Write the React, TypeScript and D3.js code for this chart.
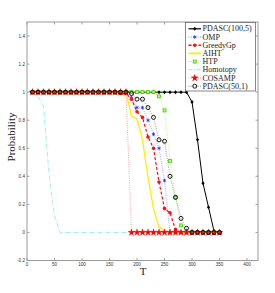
import React, {FC, useEffect, useRef} from 'react';
import * as d3 from 'd3';

// T values (sparsity level)
const tValues = [
  10, 20, 30, 40, 50, 60, 70, 80, 90, 100, 110, 120, 130, 140, 150, 160, 170,
  180, 190, 200, 210, 220, 230, 240, 250, 260, 270, 280, 290, 300, 310, 320,
  330, 340, 350,
];

const pdasc1005 = [
  1, 1, 1, 1, 1, 1, 1, 1, 1, 1, 1, 1, 1, 1, 1, 1, 1, 1, 1, 1, 1, 1, 1, 1, 1, 1,
  1, 1, 1, 0.93, 0.66, 0.35, 0.18, 0.01, 0,
];
const omp = [
  1, 1, 1, 1, 1, 1, 1, 1, 1, 1, 1, 1, 1, 1, 1, 1, 1, 1, 0.96, 0.89, 0.89, 0.8,
  0.7, 0.6, 0.37, 0, 0, 0, 0, 0, 0, 0, 0, 0, 0,
];
const greedyGp = [
  1, 1, 1, 1, 1, 1, 1, 1, 1, 1, 1, 1, 1, 1, 1, 1, 0.99, 0.99, 0.95, 0.86, 0.82,
  0.68, 0.6, 0.36, 0.17, 0.14, 0.02, 0, 0, 0, 0, 0, 0, 0, 0,
];
const aiht = [
  1, 1, 1, 1, 1, 1, 1, 1, 1, 1, 1, 1, 1, 1, 1, 1, 1, 1, 0.83, 0.81, 0.66, 0.39,
  0.17, 0.04, 0.01, 0, 0, 0, 0, 0, 0, 0, 0, 0, 0,
];
const htp = [
  1, 1, 1, 1, 1, 1, 1, 1, 1, 1, 1, 1, 1, 1, 1, 1, 1, 1, 1, 1, 1, 1, 1, 0.97,
  0.87, 0.51, 0.25, 0.05, 0, 0, 0, 0, 0, 0, 0,
];
const homotopy = [
  1, 0.97, 0.9, 0.42, 0.12, 0, 0, 0, 0, 0, 0, 0, 0, 0, 0, 0, 0, 0, 0, 0, 0, 0,
  0, 0, 0, 0, 0, 0, 0, 0, 0, 0, 0, 0, 0,
];
const cosamp = [
  1, 1, 1, 1, 1, 1, 1, 1, 1, 1, 1, 1, 1, 1, 1, 1, 1, 1, 0, 0, 0, 0, 0, 0, 0, 0,
  0, 0, 0, 0, 0, 0, 0, 0, 0,
];
const pdasc501 = [
  1, 1, 1, 1, 1, 1, 1, 1, 1, 1, 1, 1, 1, 1, 1, 1, 1, 1, 0.99, 0.95, 0.95, 0.89,
  0.82, 0.66, 0.65, 0.4, 0.25, 0.1, 0.03, 0, 0, 0, 0, 0, 0,
];

const xTicks = [0, 50, 100, 150, 200, 250, 300, 350, 400];
const yTicks = [-0.2, 0, 0.2, 0.4, 0.6, 0.8, 1, 1.2, 1.4];

type Marker = 'diamond' | 'asterisk' | 'dot' | 'square' | 'star' | 'circle' | 'none';

interface Series {
  name: string;
  values: number[];
  color: string;
  width: number;
  dash: string | null;
  marker: Marker;
  markerColor: string;
}

const series: Series[] = [
  {name: 'PDASC(100,5)', values: pdasc1005, color: '#000', width: 1, dash: null, marker: 'diamond', markerColor: '#000'},
  {name: 'OMP', values: omp, color: '#8c8cff', width: 0.8, dash: '1,1.3', marker: 'asterisk', markerColor: '#2a3cff'},
  {name: 'GreedyGp', values: greedyGp, color: '#ff1010', width: 1.2, dash: '3,2', marker: 'dot', markerColor: '#ff1010'},
  {name: 'AIHT', values: aiht, color: '#ffee00', width: 1.3, dash: null, marker: 'none', markerColor: '#ffee00'},
  {name: 'HTP', values: htp, color: '#b0f080', width: 0.8, dash: '1,1.3', marker: 'square', markerColor: '#44cc00'},
  {name: 'Homotopy', values: homotopy, color: '#78eedc', width: 0.8, dash: '4,1.5,1,1.5', marker: 'none', markerColor: '#78eedc'},
  {name: 'COSAMP', values: cosamp, color: '#ff8a8a', width: 0.8, dash: '1,1.3', marker: 'star', markerColor: '#ff0000'},
  {name: 'PDASC(50,1)', values: pdasc501, color: '#888', width: 0.8, dash: '1,1.3', marker: 'circle', markerColor: '#000'},
];

const drawMarker = (
  g: d3.Selection<SVGGElement, unknown, null, undefined>,
  s: Series,
  cx: number,
  cy: number
) => {
  switch (s.marker) {
    case 'diamond':
      g.append('path')
        .attr('d', `M${cx},${cy - 2}L${cx + 1.6},${cy}L${cx},${cy + 2}L${cx - 1.6},${cy}Z`)
        .attr('fill', s.markerColor);
      break;
    case 'asterisk':
      g.append('path')
        .attr('transform', `translate(${cx},${cy})`)
        .attr('d', d3.symbol(d3.symbolAsterisk, 9)())
        .attr('fill', 'none')
        .attr('stroke', s.markerColor)
        .attr('stroke-width', 0.9);
      break;
    case 'dot':
      g.append('circle').attr('cx', cx).attr('cy', cy).attr('r', 1.8).attr('fill', s.markerColor);
      break;
    case 'square':
      g.append('rect')
        .attr('x', cx - 1.5).attr('y', cy - 1.5).attr('width', 3).attr('height', 3)
        .attr('fill', '#b6ff70').attr('stroke', s.markerColor).attr('stroke-width', 0.8);
      break;
    case 'star':
      g.append('path')
        .attr('transform', `translate(${cx},${cy})`)
        .attr('d', d3.symbol(d3.symbolStar, 15)())
        .attr('fill', s.markerColor)
        .attr('stroke', '#d00000')
        .attr('stroke-width', 0.3);
      break;
    case 'circle':
      g.append('circle').attr('cx', cx).attr('cy', cy).attr('r', 2)
        .attr('fill', 'none').attr('stroke', s.markerColor).attr('stroke-width', 0.9);
      break;
    default:
      break;
  }
};

const Chart: FC = () => {
  const ref = useRef<SVGSVGElement>(null);
  const width = 275;
  const height = 293;
  const plot = {left: 27, right: 258, top: 22, bottom: 260.5};

  useEffect(() => {
    const svg = d3.select(ref.current);
    svg.selectAll('*').remove();

    const x = d3.scaleLinear().domain([0, 420]).range([plot.left, plot.right]);
    const y = d3.scaleLinear().domain([-0.2, 1.5]).range([plot.bottom, plot.top]);

    svg.append('rect').attr('width', width).attr('height', height).attr('fill', '#fff');

    // frame and ticks
    const axisColor = '#8a8a8a';
    const tl = 2.5;
    const axes = svg.append('g').attr('stroke', axisColor).attr('stroke-width', 0.8);
    xTicks.forEach(t => {
      axes.append('line').attr('x1', x(t)).attr('x2', x(t)).attr('y1', plot.bottom).attr('y2', plot.bottom - tl);
      axes.append('line').attr('x1', x(t)).attr('x2', x(t)).attr('y1', plot.top).attr('y2', plot.top + tl);
    });
    yTicks.forEach(t => {
      axes.append('line').attr('x1', plot.left).attr('x2', plot.left + tl).attr('y1', y(t)).attr('y2', y(t));
      axes.append('line').attr('x1', plot.right).attr('x2', plot.right - tl).attr('y1', y(t)).attr('y2', y(t));
    });
    svg.append('rect')
      .attr('x', plot.left).attr('y', plot.top)
      .attr('width', plot.right - plot.left).attr('height', plot.bottom - plot.top)
      .attr('fill', 'none').attr('stroke', '#9a9a9a').attr('stroke-width', 1);

    const labels = svg.append('g')
      .attr('font-family', '"Liberation Sans", Arial, sans-serif')
      .attr('font-size', 4.6)
      .attr('fill', '#333');
    xTicks.forEach(t => {
      labels.append('text').attr('x', x(t)).attr('y', plot.bottom + 5.8)
        .attr('text-anchor', 'middle').text(String(t));
    });
    yTicks.forEach(t => {
      labels.append('text').attr('x', plot.left - 2).attr('y', y(t) + 1.6)
        .attr('text-anchor', 'end').text(String(t));
    });

    // axis titles
    svg.append('text')
      .attr('x', 143).attr('y', 274.5)
      .attr('text-anchor', 'middle')
      .attr('font-family', '"Liberation Serif", "Times New Roman", serif')
      .attr('font-size', 11).attr('fill', '#222')
      .text('T');
    svg.append('text')
      .attr('transform', 'translate(15,137) rotate(-90)')
      .attr('text-anchor', 'middle')
      .attr('font-family', '"Liberation Serif", "Times New Roman", serif')
      .attr('font-size', 11).attr('fill', '#222')
      .text('Probability');

    // lines
    const line = d3.line<number>()
      .x((_, i) => x(tValues[i]))
      .y(d => y(d));

    series.forEach(s => {
      const g = svg.append('g');
      g.append('path')
        .attr('d', line(s.values))
        .attr('fill', 'none')
        .attr('stroke', s.color)
        .attr('stroke-width', s.width)
        .attr('stroke-dasharray', s.dash);
      s.values.forEach((v, i) => drawMarker(g, s, x(tValues[i]), y(v)));
    });

    // legend
    const lg = svg.append('g');
    const lx = 185.5, ly = 22.5, lw = 70, lh = 68.5;
    lg.append('rect')
      .attr('x', lx).attr('y', ly).attr('width', lw).attr('height', lh)
      .attr('fill', '#fff').attr('stroke', '#555').attr('stroke-width', 0.7);
    series.forEach((s, i) => {
      const cy = ly + 6.3 + i * 8.2;
      lg.append('line')
        .attr('x1', lx + 3).attr('x2', lx + 15.5)
        .attr('y1', cy).attr('y2', cy)
        .attr('stroke', s.color)
        .attr('stroke-width', s.name === 'AIHT' ? 1.8 : s.width + 0.2)
        .attr('stroke-dasharray', s.dash);
      drawMarker(lg, s, lx + 9.25, cy);
      lg.append('text')
        .attr('x', lx + 17).attr('y', cy + 2.6)
        .attr('font-family', '"Liberation Serif", "Times New Roman", serif')
        .attr('font-size', 8).attr('fill', '#222')
        .text(s.name);
    });
  }, []);

  return (
    <svg
      ref={ref}
      width={width}
      height={height}
      style={{position: 'absolute', left: 0, top: 0}}
    />
  );
};

export default function App() {
  return <Chart />;
}
